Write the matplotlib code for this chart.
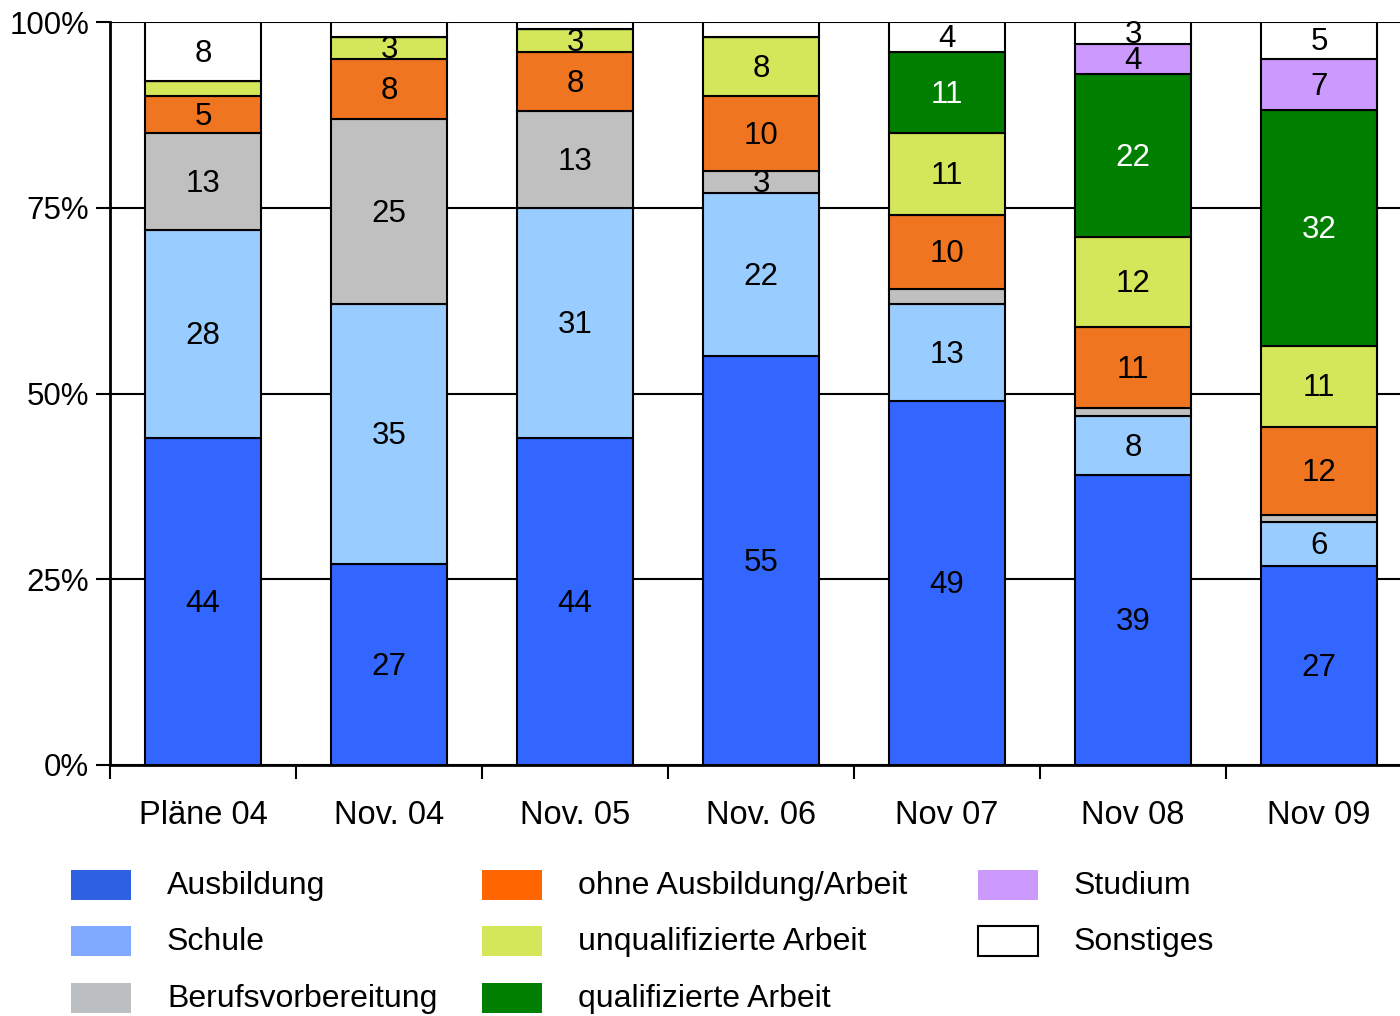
"""Stacked 100% bar chart: whereabouts of school leavers, Pläne 04 to Nov 09."""

import matplotlib
matplotlib.use("Agg")
import matplotlib.pyplot as plt
from matplotlib.patches import Rectangle
import numpy as np

plt.rcParams["font.family"] = ["Liberation Sans", "DejaVu Sans"]

categories = ["Pläne 04", "Nov. 04", "Nov. 05", "Nov. 06", "Nov 07", "Nov 08", "Nov 09"]
series_names = ["Ausbildung", "Schule", "Berufsvorbereitung", "ohne Ausbildung/Arbeit",
                "unqualifizierte Arbeit", "qualifizierte Arbeit", "Studium", "Sonstiges"]

ausbildung = [44, 27, 44, 55, 49, 39, 27]
schule = [28, 35, 31, 22, 13, 8, 6]
berufsvorbereitung = [13, 25, 13, 3, 2, 1, 1]
ohne_arbeit = [5, 8, 8, 10, 10, 11, 12]
unqualifiziert = [2, 3, 3, 8, 11, 12, 11]
qualifiziert = [0, 0, 0, 0, 11, 22, 32]
studium = [0, 0, 0, 0, 0, 4, 7]
sonstiges = [8, 2, 1, 2, 4, 3, 5]

bar_colors = ["#3366FF", "#99CCFF", "#C0C0C0", "#EF7520",
              "#D4E65A", "#007F00", "#CC99FF", "#FFFFFF"]
legend_colors = ["#2E62E2", "#80AAFF", "#BBBFC1", "#FF6600",
                 "#D4E65A", "#008000", "#CC99FF", "#FFFFFF"]
text_colors = ["black", "black", "black", "black", "black", "white", "black", "black"]

data = np.array([ausbildung, schule, berufsvorbereitung, ohne_arbeit,
                 unqualifiziert, qualifiziert, studium, sonstiges], dtype=float)
shares = data / data.sum(axis=0) * 100

fig = plt.figure(figsize=(14, 10.16), dpi=100)
ax = fig.add_axes([110 / 1400, 1 - 765 / 1016, 1302 / 1400, 743 / 1016])

x = np.arange(len(categories))
bottom = np.zeros(len(categories))
for i, name in enumerate(series_names):
    ax.bar(x, shares[i], 0.625, bottom=bottom, color=bar_colors[i],
           edgecolor="black", linewidth=1.5, zorder=3)
    for j in range(len(categories)):
        if data[i, j] >= 3:
            ax.annotate(f"{data[i, j]:.0f}", (x[j], bottom[j] + shares[i, j] / 2),
                        xytext=(0, -1.5), textcoords="offset points",
                        ha="center", va="center", fontsize=22.5,
                        color=text_colors[i], zorder=4)
    bottom += shares[i]

ax.set_xlim(-0.5, len(categories) - 0.5)
ax.set_ylim(0, 100)
ax.set_yticks([0, 25, 50, 75, 100])
ax.set_yticklabels(["0%", "25%", "50%", "75%", "100%"], fontsize=22.5)
ax.yaxis.grid(True, color="black", linewidth=1.5, zorder=0)
ax.set_axisbelow(True)

ax.set_xticks(x)
ax.set_xticklabels(categories, fontsize=23.5)
ax.set_xticks(np.arange(len(categories) + 1) - 0.5, minor=True)
ax.tick_params(axis="x", which="major", length=0, pad=25)
ax.tick_params(axis="x", which="minor", length=10, width=1.5, direction="out")
ax.tick_params(axis="y", length=10, width=1.5, pad=5)

for side in ["top", "right"]:
    ax.spines[side].set_visible(False)
for side in ["left", "bottom"]:
    ax.spines[side].set_linewidth(2)

# legend laid out in three columns below the plot
col_x = [71, 482, 978]
row_y = [885, 941, 998]
for k, name in enumerate(series_names):
    col, row = divmod(k, 3)
    px, py = col_x[col], row_y[row]
    edge = "black" if name == "Sonstiges" else "none"
    fig.patches.append(Rectangle((px / 1400, 1 - (py + 15) / 1016), 60 / 1400, 30 / 1016,
                                 transform=fig.transFigure, facecolor=legend_colors[k],
                                 edgecolor=edge, linewidth=1.5))
    fig.text((px + 96) / 1400, 1 - (py + 1) / 1016, name, ha="left", va="center", fontsize=23)

fig.savefig("out.png", dpi=100)
